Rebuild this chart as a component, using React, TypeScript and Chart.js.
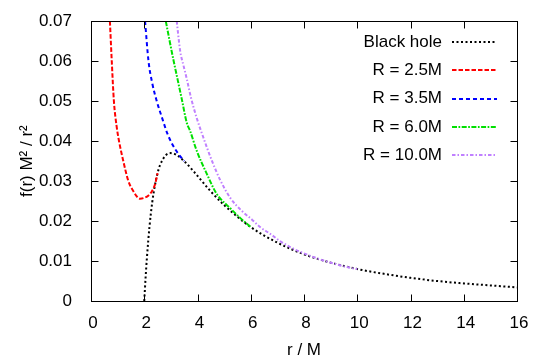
import React, { useEffect, useRef } from "react";
import { Chart, registerables } from "chart.js";
Chart.register(...registerables);

// ---- data ----
const bhR = [2, 2.05, 2.1, 2.2, 2.3, 2.4, 2.5, 2.6, 2.8, 3.0, 3.2, 3.5, 4, 4.5, 5, 6, 7, 8, 9, 10, 11, 12, 13, 14, 15, 16];
const bhF = [0, 0.0058, 0.0108, 0.0188, 0.0247, 0.0289, 0.032, 0.0341, 0.0364, 0.037, 0.0366, 0.035, 0.0313, 0.0274, 0.024, 0.0185, 0.0146, 0.0117, 0.0096, 0.008, 0.0068, 0.0058, 0.005, 0.0044, 0.0039, 0.0034];

const r25R = [0.71, 0.78, 0.86, 0.96, 1.05, 1.21, 1.4, 1.57, 1.84, 2.0, 2.16, 2.3, 2.41, 2.5];
const r25F = [0.07, 0.06, 0.05, 0.0438, 0.0401, 0.0351, 0.0301, 0.0277, 0.0256, 0.0258, 0.0264, 0.0276, 0.0293, 0.032];

const r35R = [2.03, 2.16, 2.3, 2.47, 2.7, 2.85, 3.03, 3.28, 3.5];
const r35F = [0.07, 0.06, 0.0545, 0.05, 0.0452, 0.0422, 0.0395, 0.0368, 0.035];

const r60R = [2.81, 2.97, 3.09, 3.25, 3.41, 3.6, 3.72, 3.97, 4.35, 4.72, 5.23, 5.6, 6.0];
const r60F = [0.07, 0.0645, 0.0605, 0.0555, 0.0505, 0.0445, 0.0426, 0.0376, 0.0318, 0.0268, 0.0232, 0.0208, 0.0185];

const r100R = [3.22, 3.35, 3.47, 3.6, 3.75, 3.97, 4.22, 4.54, 4.85, 5.23, 5.67, 6.04, 6.35, 6.73, 7.1, 7.48, 7.86, 8.48, 9.1, 9.6, 10.0];
const r100F = [0.07, 0.0625, 0.059, 0.0555, 0.051, 0.0458, 0.0409, 0.0351, 0.0303, 0.0258, 0.0225, 0.0204, 0.0185, 0.0168, 0.015, 0.0135, 0.0123, 0.0107, 0.0094, 0.0085, 0.008];

const seriesNames = ["Black hole", "R = 2.5M", "R = 3.5M", "R = 6.0M", "R = 10.0M"];

const xTickValues = [0, 2, 4, 6, 8, 10, 12, 14, 16];
const xTickLabels = ["0", "2", "4", "6", "8", "10", "12", "14", "16"];
const yTickValues = [0, 0.01, 0.02, 0.03, 0.04, 0.05, 0.06, 0.07];
const yTickLabels = ["0", "0.01", "0.02", "0.03", "0.04", "0.05", "0.06", "0.07"];

const xTitle = "r / M";
const yTitle = "f(r) M\u00B2 / r\u00B2";

// ---- styles ----
const FONT = "'Liberation Sans', Arial, sans-serif";
const FS = 17;
const styles = [
  { color: "#000000", dash: [2, 2.5] },
  { color: "#ff0000", dash: [4.5, 2] },
  { color: "#0000ff", dash: [4, 3] },
  { color: "#00e000", dash: [5, 1.5, 1.7, 1.5] },
  { color: "#c080ff", dash: [3.5, 2, 1.5, 2] },
];

const pts = (xs: number[], ys: number[]) => xs.map((x, i) => ({ x, y: ys[i] }));
const seriesData = [pts(bhR, bhF), pts(r25R, r25F), pts(r35R, r35F), pts(r60R, r60F), pts(r100R, r100F)];

const framePlugin = {
  id: "gnuFrame",
  afterDraw(chart: any) {
    const { ctx, chartArea, scales } = chart;
    const { left, right, top, bottom } = chartArea;
    const xs = scales.x;
    const ys = scales.y;
    ctx.save();
    ctx.strokeStyle = "#000";
    ctx.lineWidth = 1;
    ctx.setLineDash([]);
    ctx.beginPath();
    const L = Math.round(left) + 0.5;
    const R = Math.round(right) + 0.5;
    const T = Math.round(top) + 0.5;
    const B = Math.round(bottom) + 0.5;
    const tl = 7;
    xTickValues.forEach((v) => {
      const px = Math.round(xs.getPixelForValue(v)) + 0.5;
      ctx.moveTo(px, B);
      ctx.lineTo(px, B - tl);
      ctx.moveTo(px, T);
      ctx.lineTo(px, T + tl);
    });
    yTickValues.forEach((v) => {
      const py = Math.round(ys.getPixelForValue(v)) + 0.5;
      ctx.moveTo(L, py);
      ctx.lineTo(L + tl, py);
      ctx.moveTo(R, py);
      ctx.lineTo(R - tl, py);
    });
    ctx.stroke();
    ctx.strokeRect(L, T, R - L, B - T);

    // legend (gnuplot style: right-aligned text, sample on the right)
    ctx.font = `${FS}px ${FONT}`;
    ctx.fillStyle = "#000";
    ctx.textAlign = "right";
    ctx.textBaseline = "middle";
    const textX = 442;
    const lineX0 = 452;
    const lineX1 = 497;
    const row0 = 42;
    const rowH = 28.3;
    seriesNames.forEach((name, i) => {
      const yy = row0 + i * rowH;
      ctx.fillText(name, textX, yy);
      ctx.beginPath();
      ctx.strokeStyle = styles[i].color;
      ctx.lineWidth = 2;
      ctx.setLineDash(styles[i].dash);
      ctx.moveTo(lineX0, Math.round(yy));
      ctx.lineTo(lineX1, Math.round(yy));
      ctx.stroke();
    });
    ctx.restore();
  },
};

export default function App() {
  const ref = useRef<HTMLCanvasElement | null>(null);
  useEffect(() => {
    if (!ref.current) return;
    const chart = new Chart(ref.current, {
      type: "line",
      data: {
        datasets: seriesData.map((d, i) => ({
          label: seriesNames[i],
          data: d,
          borderColor: styles[i].color,
          backgroundColor: styles[i].color,
          borderWidth: 2,
          borderDash: styles[i].dash,
          borderCapStyle: "butt",
          pointRadius: 0,
          fill: false,
          cubicInterpolationMode: "monotone",
          order: seriesNames.length - 1 - i,
        })),
      },
      options: {
        animation: false,
        responsive: false,
        events: [],
        layout: { padding: { left: 0, top: 20, right: 28, bottom: 0 } },
        plugins: { legend: { display: false }, tooltip: { enabled: false } },
        scales: {
          x: {
            type: "linear",
            min: 0,
            max: 16,
            grid: { display: false },
            border: { display: false },
            afterBuildTicks: (s: any) => {
              s.ticks = xTickValues.map((v) => ({ value: v }));
            },
            afterFit: (s: any) => {
              s.height = 61;
            },
            ticks: {
              padding: 4,
              labelOffset: 2,
              color: "#000",
              font: { family: FONT, size: FS },
              maxRotation: 0,
              callback: (v: any) => {
                const i = xTickValues.indexOf(Number(v));
                return i >= 0 ? xTickLabels[i] : "";
              },
            },
            title: {
              display: true,
              text: xTitle,
              color: "#000",
              font: { family: FONT, size: FS },
              padding: { top: 0, bottom: 1 },
            },
          },
          y: {
            type: "linear",
            min: 0,
            max: 0.07,
            grid: { display: false },
            border: { display: false },
            afterBuildTicks: (s: any) => {
              s.ticks = yTickValues.map((v) => ({ value: v }));
            },
            afterFit: (s: any) => {
              s.width = 91;
            },
            ticks: {
              padding: 11,
              color: "#000",
              font: { family: FONT, size: FS },
              callback: (v: any) => {
                let best = 0;
                yTickValues.forEach((t, i) => {
                  if (Math.abs(t - Number(v)) < Math.abs(yTickValues[best] - Number(v))) best = i;
                });
                return yTickLabels[best];
              },
            },
            title: {
              display: true,
              text: yTitle,
              color: "#000",
              font: { family: FONT, size: FS },
              padding: { top: 17, bottom: 0 },
            },
          },
        },
      },
      plugins: [framePlugin],
    } as any);
    return () => chart.destroy();
  }, []);
  return (
    <div style={{ position: "absolute", left: 0, top: 0, width: 545, height: 362, background: "#fff" }}>
      <canvas ref={ref} width={545} height={362} style={{ display: "block" }} />
    </div>
  );
}
